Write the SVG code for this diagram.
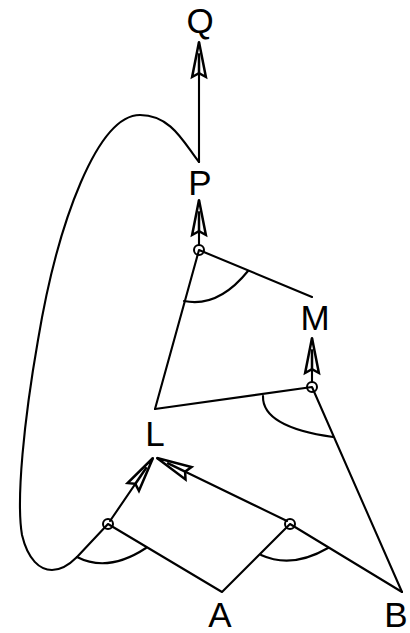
<svg xmlns="http://www.w3.org/2000/svg" width="410" height="633" viewBox="0 0 410 633">
<style>
.e{fill:none;stroke:#000;stroke-width:2.1;stroke-linecap:round;stroke-linejoin:round}
.n{fill:none;stroke:#000;stroke-width:2}
text{font-family:"Liberation Sans",Arial,sans-serif;font-size:35px;fill:#000;text-anchor:middle}
</style>
<defs>
<marker id="ah" markerUnits="userSpaceOnUse" markerWidth="40" markerHeight="20" viewBox="-30 -8 32 16" refX="0" refY="0" orient="auto" overflow="visible">
<path d="M0,0 L-28,-5.5 L-25,0 L-28,5.5 Z" fill="#fff" stroke="#000" stroke-width="2" stroke-linejoin="miter"/>
<path d="M-25,0 L-9,0" stroke="#000" stroke-width="2"/>
</marker>
</defs>
<rect width="410" height="633" fill="#fff"/>
<g id="connectors">
<path class="e" d="M199,162 C185,145 172,115 140,115 C98,115 58,220 38,340 C24,420 16,500 22,535 C28,560 40,570 52,570 C62,570 70,564 77,557"/>
<path class="e" d="M199,162 L199,42" marker-end="url(#ah)"/>
<path class="e" d="M199,245 L199,200" marker-end="url(#ah)"/>
<path class="e" d="M155,409 L199,250 L312,297"/>
<path class="e" d="M184,301 Q218,308 248,271"/>
<path class="e" d="M155,409 L312,387 L402,592"/>
<path class="e" d="M263,396 Q262,427 333,437"/>
<path class="e" d="M312,382 L312,338" marker-end="url(#ah)"/>
<path class="e" d="M77,557 L108,524 L222,592 L290,524 L402,592"/>
<path class="e" d="M77,557 Q108,573 146,548"/>
<path class="e" d="M261,555 Q292,569 328,548"/>
<path class="e" d="M110,521 L153,458" marker-end="url(#ah)"/>
<path class="e" d="M287,521 L157,458" marker-end="url(#ah)"/>
</g>
<g id="c1"><circle class="n" cx="108" cy="524" r="5" fill="#fff"/></g>
<g id="c2"><circle class="n" cx="290" cy="524" r="5" fill="#fff"/></g>
<g id="c3"><circle class="n" cx="312" cy="387" r="5" fill="#fff"/></g>
<g id="c4"><circle class="n" cx="199" cy="250" r="5" fill="#fff"/></g>
<g id="Q"><text x="200" y="33">Q</text></g>
<g id="P"><text x="200" y="195">P</text></g>
<g id="M"><text x="315" y="330">M</text></g>
<g id="L"><text x="155" y="446">L</text></g>
<g id="A"><text x="220" y="627">A</text></g>
<g id="B"><text x="396" y="627">B</text></g>
</svg>
